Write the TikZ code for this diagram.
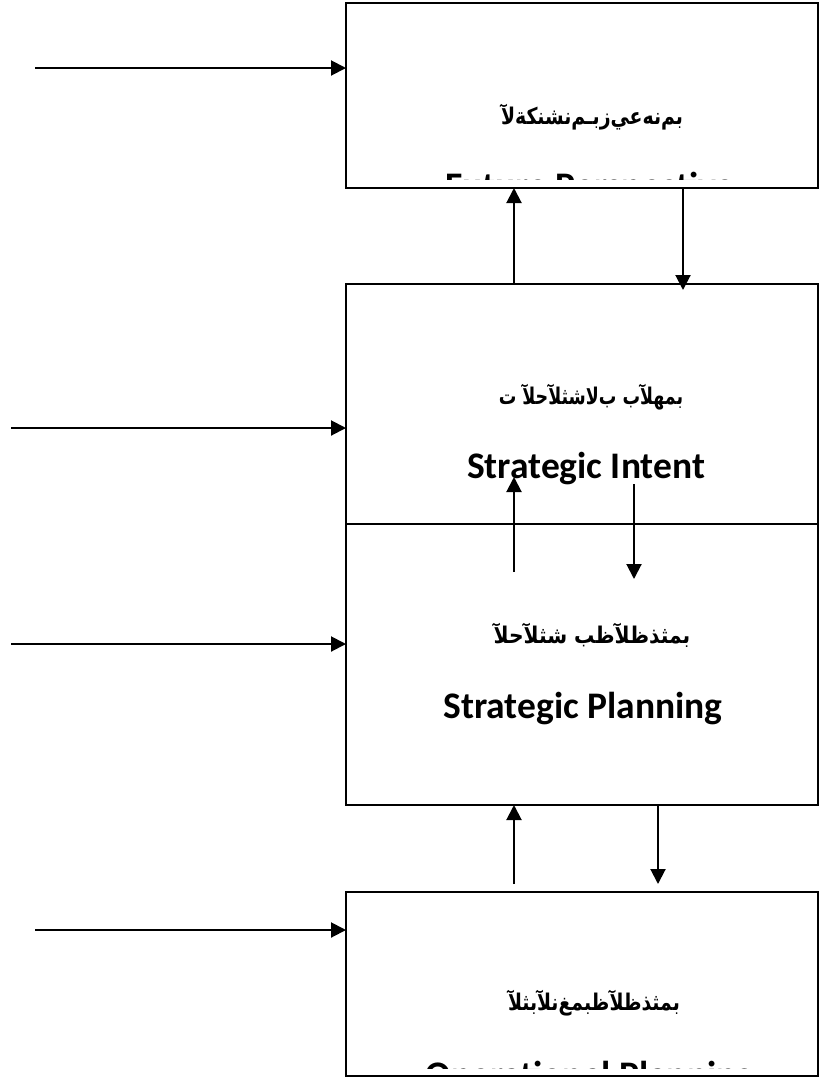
\documentclass[tikz,border=0pt]{standalone}
\usepackage{fontspec}
\setmainfont{Carlito}
\newfontfamily\arabicfont[Script=Arabic]{DejaVu Sans}
\TeXXeTstate=1
\usetikzlibrary{arrows.meta}
\newcommand{\artext}[2][0.82]{\scalebox{#1}[1]{\beginR #2\endR}}
\begin{document}
\begin{tikzpicture}[x=1pt,y=-1pt,
  box/.style={draw, line width=1.4pt, rectangle, inner sep=0pt, outer sep=0pt, anchor=north west, minimum width=472pt},
  arr/.style={line width=2pt, -{Triangle[length=15pt,width=15pt]}},
  ar/.style={font=\arabicfont\bfseries\fontsize{23}{26}\selectfont, inner sep=0pt},
  en/.style={font=\bfseries\fontsize{37.5}{40}\selectfont, inner sep=0pt, anchor=base}]
\useasboundingbox (0,0) rectangle (819,1077);
\fill[white] (0,0) rectangle (819,1077);

% boxes
\node[box, minimum height=185pt] (b1) at (346,3) {};
\node[box, minimum height=240pt] (b2) at (346,284) {};
\node[box, minimum height=281pt] (b3) at (346,524) {};
\node[box, minimum height=184pt] (b4) at (346,892) {};

% texts
\node[ar] (a1) at (592,117) {\artext{بم‌نه‌عي‌زبـم‌نشنكة‌لآ}};
\begin{scope}
  \clip (b1.north west) rectangle (b1.east |- 0,179);
  \node[en] (e1) at (590,198) {Future Perspective};
\end{scope}
\node[ar] (a2) at (591,397) {\artext[0.76]{بمهلآب ب‌لاشثلآحلآ ت}};
\node[en] (e2) at (586,478) {Strategic Intent};
\node[ar] (a3) at (592,635) {\artext[0.88]{بمثذظلآظب  شثلآحلآ}};
\node[en] (e3) at (583,718) {Strategic Planning};
\node[ar] (a4) at (594,1003) {\artext{بمثذظلآظبمغ‌نلآبثلآ}};
\begin{scope}
  \clip (b4.north west) rectangle (b4.east |- 0,1068);
  \node[en] (e4) at (590,1087) {Operational Planning};
\end{scope}

% inputs from the left
\coordinate (s1) at (35,68);
\coordinate (s2) at (11,428);
\coordinate (s3) at (11,644);
\coordinate (s4) at (35,930);
\draw[arr] (s1) -- (s1 -| b1.west);
\draw[arr] (s2) -- (s2 -| b2.west);
\draw[arr] (s3) -- (s3 -| b3.west);
\draw[arr] (s4) -- (s4 -| b4.west);

% vertical arrows
\coordinate (u1) at (514,284);
\coordinate (d1) at (683,290);
\draw[arr] (u1) -- (u1 |- b1.south);
\draw[arr] (d1 |- b1.south) -- (d1);

\coordinate (u2a) at (514,572);
\coordinate (u2b) at (514,477);
\coordinate (d2a) at (634,484);
\coordinate (d2b) at (634,579);
\draw[arr] (u2a) -- (u2b);
\draw[arr] (d2a) -- (d2b);

\coordinate (u3) at (514,884);
\coordinate (d3) at (658,884);
\draw[arr] (u3) -- (u3 |- b3.south);
\draw[arr] (d3 |- b3.south) -- (d3);
\end{tikzpicture}
\end{document}
